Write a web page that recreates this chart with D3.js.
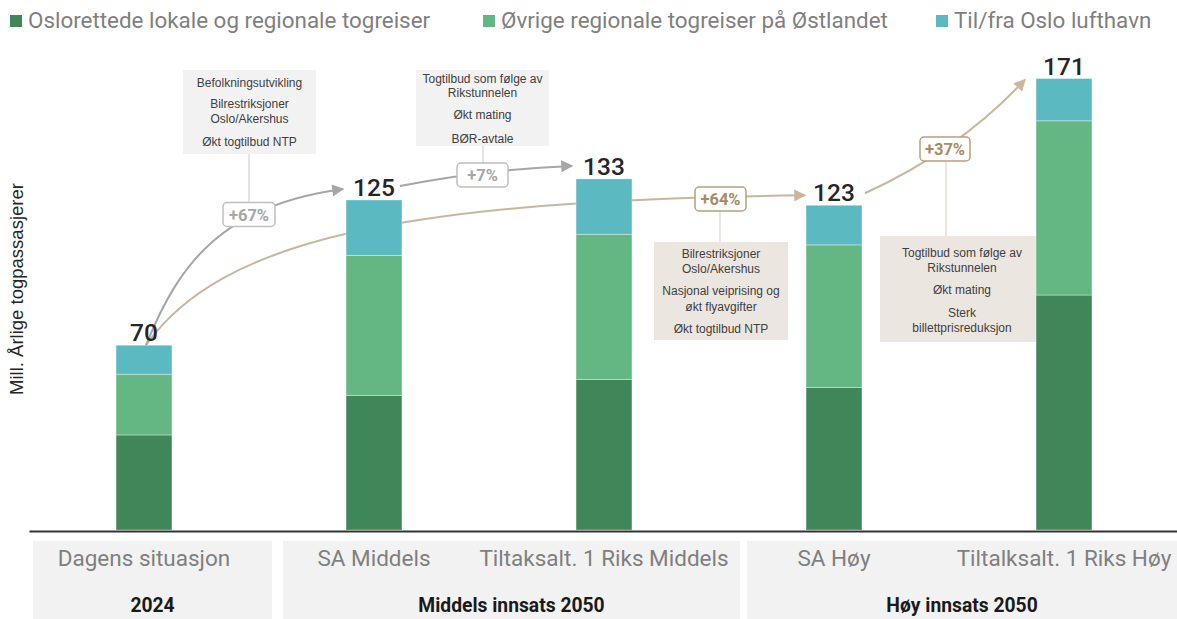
<!DOCTYPE html>
<html><head><meta charset="utf-8">
<script src="https://cdn.jsdelivr.net/npm/d3@7"></script>
<style>body{margin:0;background:#fff}svg{display:block}</style>
</head><body><svg id="chart" width="1177" height="619"></svg>
<script>
// ---------------- data ----------------
const categories = ["Dagens situasjon", "SA Middels", "Tiltaksalt. 1 Riks Middels", "SA Høy", "Tiltalksalt. 1 Riks Høy"];
const groupLabels = ["2024", "Middels innsats 2050", "Høy innsats 2050"];
const seriesNames = ["Oslorettede lokale og regionale togreiser", "Øvrige regionale togreiser på Østlandet", "Til/fra Oslo lufthavn"];
const osloValues = [36, 51, 57, 54, 89];
const ovrigeValues = [23, 53, 55, 54, 66];
const lufthavnValues = [11, 21, 21, 15, 16];
const totalLabels = [70, 125, 133, 123, 171];
const changeLabels = ["+67%", "+7%", "+64%", "+37%"];
const driversA = [["Befolkningsutvikling"], ["Bilrestriksjoner", "Oslo/Akershus"], ["Økt togtilbud NTP"]];
const driversB = [["Togtilbud som følge av", "Rikstunnelen"], ["Økt mating"], ["BØR-avtale"]];
const driversC = [["Bilrestriksjoner", "Oslo/Akershus"], ["Nasjonal veiprising og", "økt flyavgifter"], ["Økt togtilbud NTP"]];
const driversD = [["Togtilbud som følge av", "Rikstunnelen"], ["Økt mating"], ["Sterk", "billettprisreduksjon"]];
const yAxisTitle = "Mill. Årlige togpassasjerer";

// ---------------- layout / style ----------------
const colors = ["#3f8659", "#64b682", "#5bb9c1"];
const grayLine = "#a6a6a6", tanLine = "#c9b69d", tanText = "#a88b66", tanBorder = "#b99f7f";
const boxGray = "#f2f2f2", boxTan = "#ece6e0";
const layout = {
  groupBoxes: [[33, 272], [283, 740], [747, 1177]],
  groupTop: 541, groupBottom: 619,
  legendX: [10, 483, 936]
};
const mainFont = "Roboto, 'Liberation Sans', sans-serif";
const noteFont = "'Liberation Sans', Arial, sans-serif";

const svg = d3.select("#chart");
const x = d3.scaleBand().domain(categories).range([29, 1179]).paddingInner(0.757).paddingOuter(0.3785);
const y = d3.scaleLinear().domain([0, 200]).range([530, 2]);
const bw = x.bandwidth();
const cx = i => x(categories[i]) + bw / 2;
const barTop = i => y(totalLabels[i]);

// markers
const defs = svg.append("defs");
[["arrGray", grayLine], ["arrTan", tanLine]].forEach(([id, c]) => {
  defs.append("marker").attr("id", id).attr("viewBox", "0 0 10 10").attr("refX", 9).attr("refY", 5)
    .attr("markerWidth", 13).attr("markerHeight", 12).attr("markerUnits", "userSpaceOnUse").attr("orient", "auto")
    .append("path").attr("d", "M0,0 L10,5 L0,10 Z").attr("fill", c);
});

// legend
const leg = svg.append("g");
seriesNames.forEach((n, i) => {
  leg.append("rect").attr("x", layout.legendX[i]).attr("y", 15).attr("width", 12).attr("height", 12).attr("fill", colors[i]);
  leg.append("text").attr("x", layout.legendX[i] + 18).attr("y", 28).text(n)
    .attr("font-family", mainFont).attr("font-size", 22.4).attr("fill", "#7f7f7f");
});

// y axis title
svg.append("text").attr("transform", "translate(23,289) rotate(-90)").attr("text-anchor", "middle")
  .attr("font-family", noteFont).attr("font-size", 18.5).attr("fill", "#262626").text(yAxisTitle);

// group boxes
const gb = svg.append("g");
layout.groupBoxes.forEach(([a, b], i) => {
  gb.append("rect").attr("x", a).attr("y", layout.groupTop).attr("width", b - a).attr("height", layout.groupBottom - layout.groupTop).attr("fill", boxGray);
  gb.append("text").attr("x", (a + b) / 2).attr("y", 612).attr("text-anchor", "middle")
    .attr("font-family", mainFont).attr("font-weight", 700).attr("font-size", 19.3).attr("fill", "#1a1a1a").text(groupLabels[i]);
});
categories.forEach((c, i) => {
  gb.append("text").attr("x", cx(i)).attr("y", 566).attr("text-anchor", "middle")
    .attr("font-family", mainFont).attr("font-size", 22.5).attr("fill", "#7f7f7f").text(c);
});

// annotation boxes
function noteBox(x0, y0, w, h, fill, items, lineYs) {
  const g = svg.append("g");
  g.append("rect").attr("x", x0).attr("y", y0).attr("width", w).attr("height", h).attr("fill", fill);
  let k = 0;
  items.forEach(lines => lines.forEach(l => {
    g.append("text").attr("x", x0 + w / 2).attr("y", lineYs[k++]).attr("text-anchor", "middle")
      .attr("font-family", noteFont).attr("font-size", 12).attr("fill", "#404040").text(l);
  }));
}
noteBox(183, 70, 133, 84, boxGray, driversA, [87, 108, 123, 146]);
noteBox(416, 70, 133, 76, boxGray, driversB, [83, 97, 119, 143]);
noteBox(654, 242, 134, 98, boxTan, driversC, [258, 273, 295, 311, 333]);
noteBox(880, 236, 164, 106, boxTan, driversD, [257, 272, 294, 317, 332]);

// connectors
const conn = svg.append("g");
conn.append("line").attr("x1", 249).attr("x2", 249).attr("y1", 154).attr("y2", 203).attr("stroke", "#c8c8c8");
conn.append("line").attr("x1", 483).attr("x2", 483).attr("y1", 146).attr("y2", 163).attr("stroke", "#c8c8c8");
conn.append("line").attr("x1", 720).attr("x2", 720).attr("y1", 211).attr("y2", 242).attr("stroke", "#d8cbba");
conn.append("line").attr("x1", 946).attr("x2", 946).attr("y1", 161).attr("y2", 236).attr("stroke", "#d8cbba");

// tan long curve (behind bars)
const p0 = [cx(0) + 2, barTop(0)];
const pEnd1 = [x(categories[3]) - 1, barTop(3) - 10];
svg.append("path").attr("d", `M${p0[0]},${p0[1]} C220,240 400,200 ${pEnd1[0]},${pEnd1[1]}`)
  .attr("fill", "none").attr("stroke", tanLine).attr("stroke-width", 2).attr("marker-end", "url(#arrTan)");

// bars
const rows = categories.map((c, i) => ({ cat: c, oslo: osloValues[i], ovrige: ovrigeValues[i], lufthavn: lufthavnValues[i] }));
const stacked = d3.stack().keys(["oslo", "ovrige", "lufthavn"])(rows);
svg.append("g").selectAll("g").data(stacked).join("g").attr("fill", (d, i) => colors[i])
  .selectAll("rect").data(d => d).join("rect")
  .attr("x", d => x(d.data.cat)).attr("y", d => y(d[1])).attr("width", bw).attr("height", d => y(d[0]) - y(d[1]))
  .attr("stroke", "rgba(255,255,255,0.35)").attr("stroke-width", 1);

// baseline axis
const ax = svg.append("g").attr("transform", "translate(0,531)").call(d3.axisBottom(x).tickSize(0).tickFormat(""));
ax.select(".domain").attr("stroke", "#333").attr("stroke-width", 2.2);

// gray curves
const e1 = [x(categories[1]) - 3, barTop(1) - 11];
svg.append("path").attr("d", `M${p0[0]},${p0[1]} C180,260 225,205 ${e1[0]},${e1[1]}`)
  .attr("fill", "none").attr("stroke", grayLine).attr("stroke-width", 2).attr("marker-end", "url(#arrGray)");
const s2 = [x(categories[1]) + bw - 2, barTop(1) - 14], e2 = [x(categories[2]) - 4, barTop(2) - 13];
svg.append("path").attr("d", `M${s2[0]},${s2[1]} Q480,170 ${e2[0]},${e2[1]}`)
  .attr("fill", "none").attr("stroke", grayLine).attr("stroke-width", 2).attr("marker-end", "url(#arrGray)");
// tan second curve
const s3 = [x(categories[3]) + bw + 3, barTop(3) - 12], e3 = [x(categories[4]) - 11, barTop(4) + 1];
svg.append("path").attr("d", `M${s3[0]},${s3[1]} Q960,150 ${e3[0]},${e3[1]}`)
  .attr("fill", "none").attr("stroke", tanLine).attr("stroke-width", 2).attr("marker-end", "url(#arrTan)");

// change labels
const labelPos = [[249, 214.5, 52], [482.5, 175, 51], [720.5, 199, 51], [945, 149, 50]];
changeLabels.forEach((t, i) => {
  const [lx, ly, w] = labelPos[i];
  const tan = i >= 2;
  svg.append("rect").attr("x", lx - w / 2).attr("y", ly - 12).attr("width", w).attr("height", 24).attr("rx", 4)
    .attr("fill", "#fff").attr("stroke", tan ? tanBorder : "#bfbfbf").attr("stroke-width", 1.5);
  svg.append("text").attr("x", lx).attr("y", ly + 6).attr("text-anchor", "middle")
    .attr("font-family", mainFont).attr("font-weight", 700).attr("font-size", 16.5)
    .attr("fill", tan ? tanText : "#a6a6a6").text(t);
});

// total labels
svg.append("g").selectAll("text").data(totalLabels).join("text")
  .attr("x", (d, i) => cx(i)).attr("y", (d, i) => barTop(i) - 4).attr("text-anchor", "middle")
  .attr("font-family", mainFont).attr("font-weight", 500).attr("font-size", 24.5).attr("fill", "#262626")
  .text(d => d);
</script></body></html>
